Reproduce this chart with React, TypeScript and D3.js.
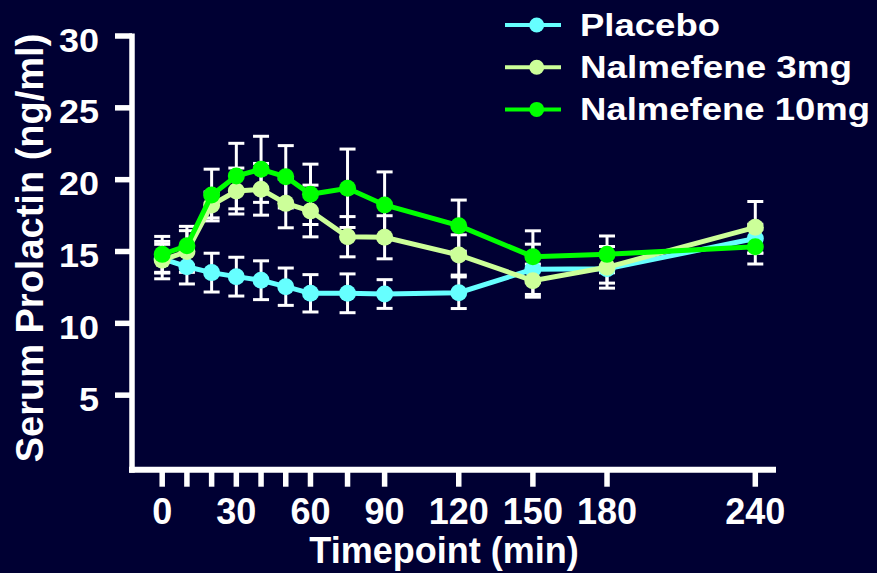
import React from "react";
import * as d3 from "d3";

const timepoints = [0, 10, 20, 30, 40, 50, 60, 75, 90, 120, 150, 180, 240];
const placeboMean = [14.5, 13.94, 13.53, 13.25, 13.0, 12.55, 12.09, 12.09, 12.04, 12.13, 13.76, 13.8, 15.9];
const placeboSem = [1.0, 1.2, 1.35, 1.35, 1.35, 1.3, 1.3, 1.35, 1.0, 1.1, 1.75, 1.0, 1.0];
const nal3Mean = [14.4, 15.0, 18.24, 19.21, 19.33, 18.35, 17.82, 16.03, 15.99, 14.76, 12.97, 13.9, 16.68];
const nal3Sem = [1.3, 1.45, 0.9, 1.6, 1.8, 1.7, 1.8, 1.4, 1.5, 1.4, 1.15, 1.45, 1.8];
const nal10Mean = [14.8, 15.4, 18.93, 20.25, 20.72, 20.2, 18.98, 19.4, 18.24, 16.8, 14.64, 14.8, 15.33];
const nal10Sem = [1.25, 1.35, 1.8, 2.28, 2.3, 2.17, 2.1, 2.73, 2.3, 1.78, 1.8, 1.28, 1.2];

const seriesNames = ["Placebo", "Nalmefene 3mg", "Nalmefene 10mg"];
const seriesColors = ["#66FFFF", "#CCFF99", "#00FF00"];
const xTickLabels = [0, 30, 60, 90, 120, 150, 180, 240];
const yTicks = [5, 10, 15, 20, 25, 30];
const legendWidths = [140, 272, 290];

const W = 877;
const H = 573;
const BG = "#000033";
const FONT = "'Liberation Sans', Arial, Helvetica, sans-serif";

export default function App() {
  const x = d3.scaleLinear().domain([0, 240]).range([162.2, 755.3]);
  const y = d3.scaleLinear().domain([0, 30]).range([467, 36]);

  const series = [
    { name: seriesNames[0], color: seriesColors[0], mean: placeboMean, sem: placeboSem },
    { name: seriesNames[1], color: seriesColors[1], mean: nal3Mean, sem: nal3Sem },
    { name: seriesNames[2], color: seriesColors[2], mean: nal10Mean, sem: nal10Sem },
  ];

  const line = d3
    .line<number>()
    .x((_, i) => x(timepoints[i]))
    .y((d) => y(d));

  const axisX0 = 129;
  const axisX1 = 776;
  const axisY = 469.7;
  const yAxisX = 132;

  return (
    <svg
      width={W}
      height={H}
      style={{ position: "absolute", left: 0, top: 0, display: "block" }}
      fontFamily={FONT}
      fontWeight="bold"
    >
      <rect x={0} y={0} width={W} height={H} fill={BG} />

      {/* Y axis */}
      <line x1={yAxisX} x2={yAxisX} y1={33.5} y2={axisY + 3} stroke="#fff" strokeWidth={5.5} />
      {yTicks.map((t) => (
        <g key={"yt" + t}>
          <line x1={115} x2={yAxisX} y1={y(t)} y2={y(t)} stroke="#fff" strokeWidth={5.5} />
          <text
            x={99}
            y={y(t) + 15.5}
            textAnchor="end"
            fill="#fff"
            fontSize={33}
            textLength={String(t).length * 20}
            lengthAdjust="spacingAndGlyphs"
          >
            {t}
          </text>
        </g>
      ))}

      {/* X axis */}
      <line x1={axisX0} x2={axisX1} y1={axisY} y2={axisY} stroke="#fff" strokeWidth={6} />
      {timepoints.map((t) => (
        <line key={"xt" + t} x1={x(t)} x2={x(t)} y1={axisY} y2={486.7} stroke="#fff" strokeWidth={5.5} />
      ))}
      {xTickLabels.map((t) => (
        <text key={"xl" + t} x={x(t)} y={523.5} textAnchor="middle" fill="#fff" fontSize={36}>
          {t}
        </text>
      ))}

      {/* Axis titles */}
      <text x={444} y={563} textAnchor="middle" fill="#fff" fontSize={36}>
        Timepoint (min)
      </text>
      <text
        transform={`translate(43,248) rotate(-90)`}
        textAnchor="middle"
        fill="#fff"
        fontSize={38}
      >
        Serum Prolactin (ng/ml)
      </text>

      {/* Error bars */}
      {series.map((s) => (
        <g key={"eb" + s.name} stroke="#fff" strokeWidth={3}>
          {s.mean.map((m, i) => {
            const cx = x(timepoints[i]);
            const yt = y(m + s.sem[i]);
            const yb = y(m - s.sem[i]);
            return (
              <g key={i}>
                <line x1={cx} x2={cx} y1={yt} y2={yb} />
                <line x1={cx - 8} x2={cx + 8} y1={yt} y2={yt} />
                <line x1={cx - 8} x2={cx + 8} y1={yb} y2={yb} />
              </g>
            );
          })}
        </g>
      ))}

      {/* Lines and markers */}
      {series.map((s) => (
        <g key={"s" + s.name}>
          <path d={line(s.mean) || ""} fill="none" stroke={s.color} strokeWidth={5} />
          {s.mean.map((m, i) => (
            <circle key={i} cx={x(timepoints[i])} cy={y(m)} r={8.5} fill={s.color} />
          ))}
        </g>
      ))}

      {/* Legend */}
      {series.map((s, i) => {
        const cy = 25 + i * 42.2;
        return (
          <g key={"lg" + s.name}>
            <line x1={505} x2={561} y1={cy} y2={cy} stroke={s.color} strokeWidth={4} />
            <circle cx={536.7} cy={cy} r={7.5} fill={s.color} />
            <text
              x={580}
              y={cy + 11}
              fill="#fff"
              fontSize={31}
              textLength={legendWidths[i]}
              lengthAdjust="spacingAndGlyphs"
            >
              {s.name}
            </text>
          </g>
        );
      })}
    </svg>
  );
}
